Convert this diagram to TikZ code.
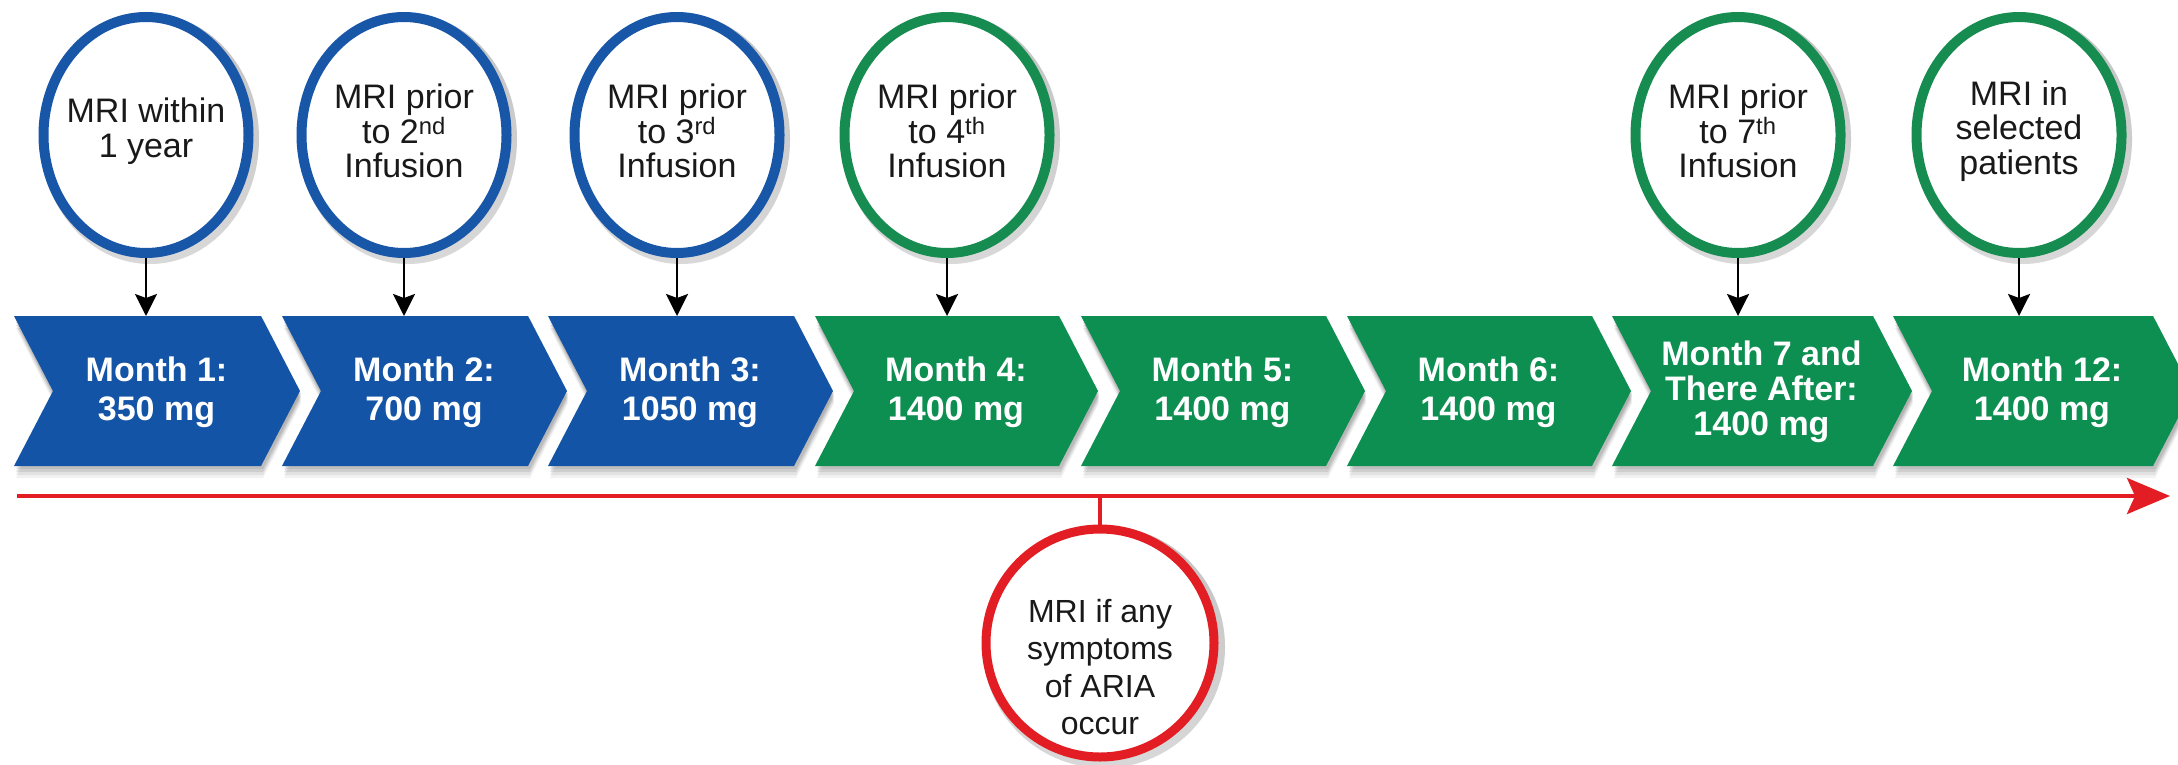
\documentclass[tikz,border=0pt]{standalone}
\usepackage{fontspec}
\setmainfont{Liberation Sans}
\usetikzlibrary{arrows.meta,calc,shapes.geometric}
\definecolor{cblue}{RGB}{20,84,166}
\definecolor{cgreen}{RGB}{14,143,82}
\definecolor{rblue}{RGB}{24,86,168}
\definecolor{rgreen}{RGB}{22,140,80}
\definecolor{cred}{RGB}{226,30,36}
\definecolor{shade}{RGB}{150,160,195}
\tikzset{
  mcirc/.style={ellipse,line width=10pt,fill=white,minimum width=205pt,minimum height=236pt,inner sep=0pt},
  redcirc/.style={circle,line width=9pt,draw=cred,fill=white,minimum size=228pt,inner sep=0pt},
  ctext/.style={align=center,text=black!90,font=\fontsize{34}{34.5}\selectfont,inner sep=0pt},
  chevtext/.style={align=center,text=white,font=\bfseries\fontsize{34}{39}\selectfont,inner sep=0pt},
  arr/.style={line width=2.6pt,-{Stealth[length=22pt,width=22pt,inset=4pt]}},
  redline/.style={line width=4pt,draw=cred},
}
\newcommand\mkchev[5]{%
  \foreach \o/\op in {3/0.10,6/0.10,9/0.07,12/0.05}{%
    \fill[shade,opacity=\op] (#2+2,316+\o) -- (#2+#3+2,316+\o) -- (#2+#3+40,391+\o) -- (#2+#3+2,466+\o) -- (#2+2,466+\o) -- (#2+40,391+\o) -- cycle;}
  \fill[#4] (#2,316) -- (#2+#3,316) -- (#2+#3+39,391) -- (#2+#3,466) -- (#2,466) -- (#2+39,391) -- cycle;
  \coordinate (#1t) at (#2+#3/2+19,316);
  \node[chevtext] (#1) at (#2+#3/2+19,392) {#5};
}
\begin{document}
\begin{tikzpicture}[x=1pt,y=-1pt]
\useasboundingbox (0,0) rectangle (2178,764);
\clip (0,0) rectangle (2178,764);
\fill[white] (0,0) rectangle (2178,764);

% chevrons
\mkchev{m1}{14}{247}{cblue}{Month 1:\\350 mg}
\mkchev{m2}{282}{246}{cblue}{Month 2:\\700 mg}
\mkchev{m3}{548}{246}{cblue}{Month 3:\\1050 mg}
\mkchev{m4}{815}{244}{cgreen}{Month 4:\\1400 mg}
\mkchev{m5}{1081}{245}{cgreen}{Month 5:\\1400 mg}
\mkchev{m6}{1347}{245}{cgreen}{Month 6:\\1400 mg}
\mkchev{m7}{1612}{261}{cgreen}{Month 7 and\\[-4pt]There After:\\[-4pt]1400 mg}
\mkchev{m8}{1893}{260}{cgreen}{Month 12:\\1400 mg}

% top circles
\foreach \n/\x/\c in {c1/146/rblue,c2/404/rblue,c3/677/rblue,c4/947/rgreen,c7/1738/rgreen,c8/2019/rgreen}{
  \fill[shade,opacity=0.18] (\x+4,139) ellipse[x radius=109pt,y radius=125pt];
  \node[mcirc,draw=\c] (\n) at (\x,135) {};
}
\node[ctext] at ([yshift=4pt]c1.center) {MRI within\\1 year};
\node[ctext] at ([yshift=4pt]c2.center) {MRI prior\\to 2\textsuperscript{nd}\\Infusion};
\node[ctext] at ([yshift=4pt]c3.center) {MRI prior\\to 3\textsuperscript{rd}\\Infusion};
\node[ctext] at ([yshift=4pt]c4.center) {MRI prior\\to 4\textsuperscript{th}\\Infusion};
\node[ctext] at ([yshift=4pt]c7.center) {MRI prior\\to 7\textsuperscript{th}\\Infusion};
\node[ctext] at ([yshift=4pt]c8.center) {MRI in\\selected\\patients};

% arrows into chevrons
\draw[arr] (c1.south) -- (c1.south |- m1t);
\draw[arr] (c2.south) -- (c2.south |- m2t);
\draw[arr] (c3.south) -- (c3.south |- m3t);
\draw[arr] (c4.south) -- (c4.south |- m4t);
\draw[arr] (c7.south) -- (c7.south |- m7t);
\draw[arr] (c8.south) -- (c8.south |- m8t);

% timeline
\coordinate (tl0) at (17,496);
\coordinate (tl1) at (2170,496);
\draw[redline,-{Stealth[length=43pt,width=36pt,inset=8pt]}] (tl0) -- (tl1);

% red circle
\fill[shade,opacity=0.18] (1104,647) circle[radius=121pt];
\node[redcirc] (rc) at (1100,643) {};
\node[ctext,font=\fontsize{32}{37.5}\selectfont] at ([yshift=-24pt]rc.center) {MRI if any\\symptoms\\of ARIA\\occur};
\draw[redline,line width=3.5pt] (rc.north) -- (rc.north |- tl0);
\end{tikzpicture}
\end{document}
